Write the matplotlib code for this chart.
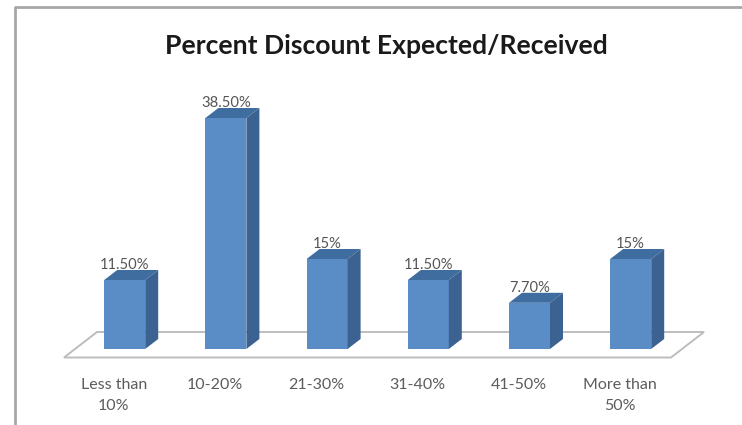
import matplotlib
matplotlib.use('Agg')
import matplotlib.pyplot as plt
from matplotlib.patches import Polygon, Rectangle

title = 'Percent Discount Expected/Received'
categories = ['Less than\n10%', '10-20%', '21-30%', '31-40%', '41-50%', 'More than\n50%']
values = [11.5, 38.5, 15, 11.5, 7.7, 15]
value_labels = ['11.50%', '38.50%', '15%', '11.50%', '7.70%', '15%']

W, H = 742, 425
X0, DX = 124.7, 101.2   # pixel of first category, pixels per category
Y0, DY = 349.0, 6.0     # pixel of baseline, pixels per value unit
plt.rcParams['font.family'] = ['Lato', 'DejaVu Sans']

fig = plt.figure(figsize=(W / 100, H / 100), dpi=100, facecolor='white')
ax = fig.add_axes([0, 0, 1, 1])
ax.set_xlim((0 - X0) / DX, (W - X0) / DX)
ax.set_ylim((Y0 - H) / DY, Y0 / DY)
ax.axis('off')

bw = 41 / DX
ox, oy = 13 / DX, 10 / DY

# floor
fy0 = -8.5 / DY
fy1 = 17 / DY
fl = (64 - X0) / DX
fr = (671 - X0) / DX
bs = 33 / DX
ax.add_patch(Polygon([(fl, fy0), (fr, fy0), (fr + bs, fy1), (fl + bs, fy1)], closed=True,
                     facecolor='white', edgecolor='#bdbdbd', lw=1.4, zorder=1))

front, top, side = '#5a8cc5', '#3f6d9f', '#3b6290'
for i, v in enumerate(values):
    l = i - bw / 2
    r = i + bw / 2
    ax.add_patch(Rectangle((l, 0), bw, v, facecolor=front, edgecolor='none', zorder=3))
    ax.add_patch(Polygon([(l, v), (r, v), (r + ox, v + oy), (l + ox, v + oy)], closed=True,
                         facecolor=top, edgecolor='none', zorder=3))
    ax.add_patch(Polygon([(r, 0), (r + ox, oy), (r + ox, v + oy), (r, v)], closed=True,
                         facecolor=side, edgecolor='none', zorder=3))
    ax.text(i, v + oy - 0.3, value_labels[i], ha='center', va='bottom', fontsize=10.6,
            color='#555555', zorder=4)
    ax.text(i - 11 / DX, -29 / DY, categories[i], ha='center', va='top', fontsize=11.5,
            color='#5c5c5c', linespacing=1.6, zorder=4)

# outer frame: left and top edges only
frame_x = [15 / W, 15 / W, 1]
frame_y = [0, 1 - 7 / H, 1 - 7 / H]
ax.plot(frame_x, frame_y, transform=fig.transFigure, color='#a8a8a8', lw=2, zorder=0, clip_on=False)

fig.text(386 / W, 1 - 46 / H, title, ha='center', va='center', fontsize=19.1,
         fontweight='bold', color='#1a1a1a')

fig.savefig('out.png', dpi=100)
